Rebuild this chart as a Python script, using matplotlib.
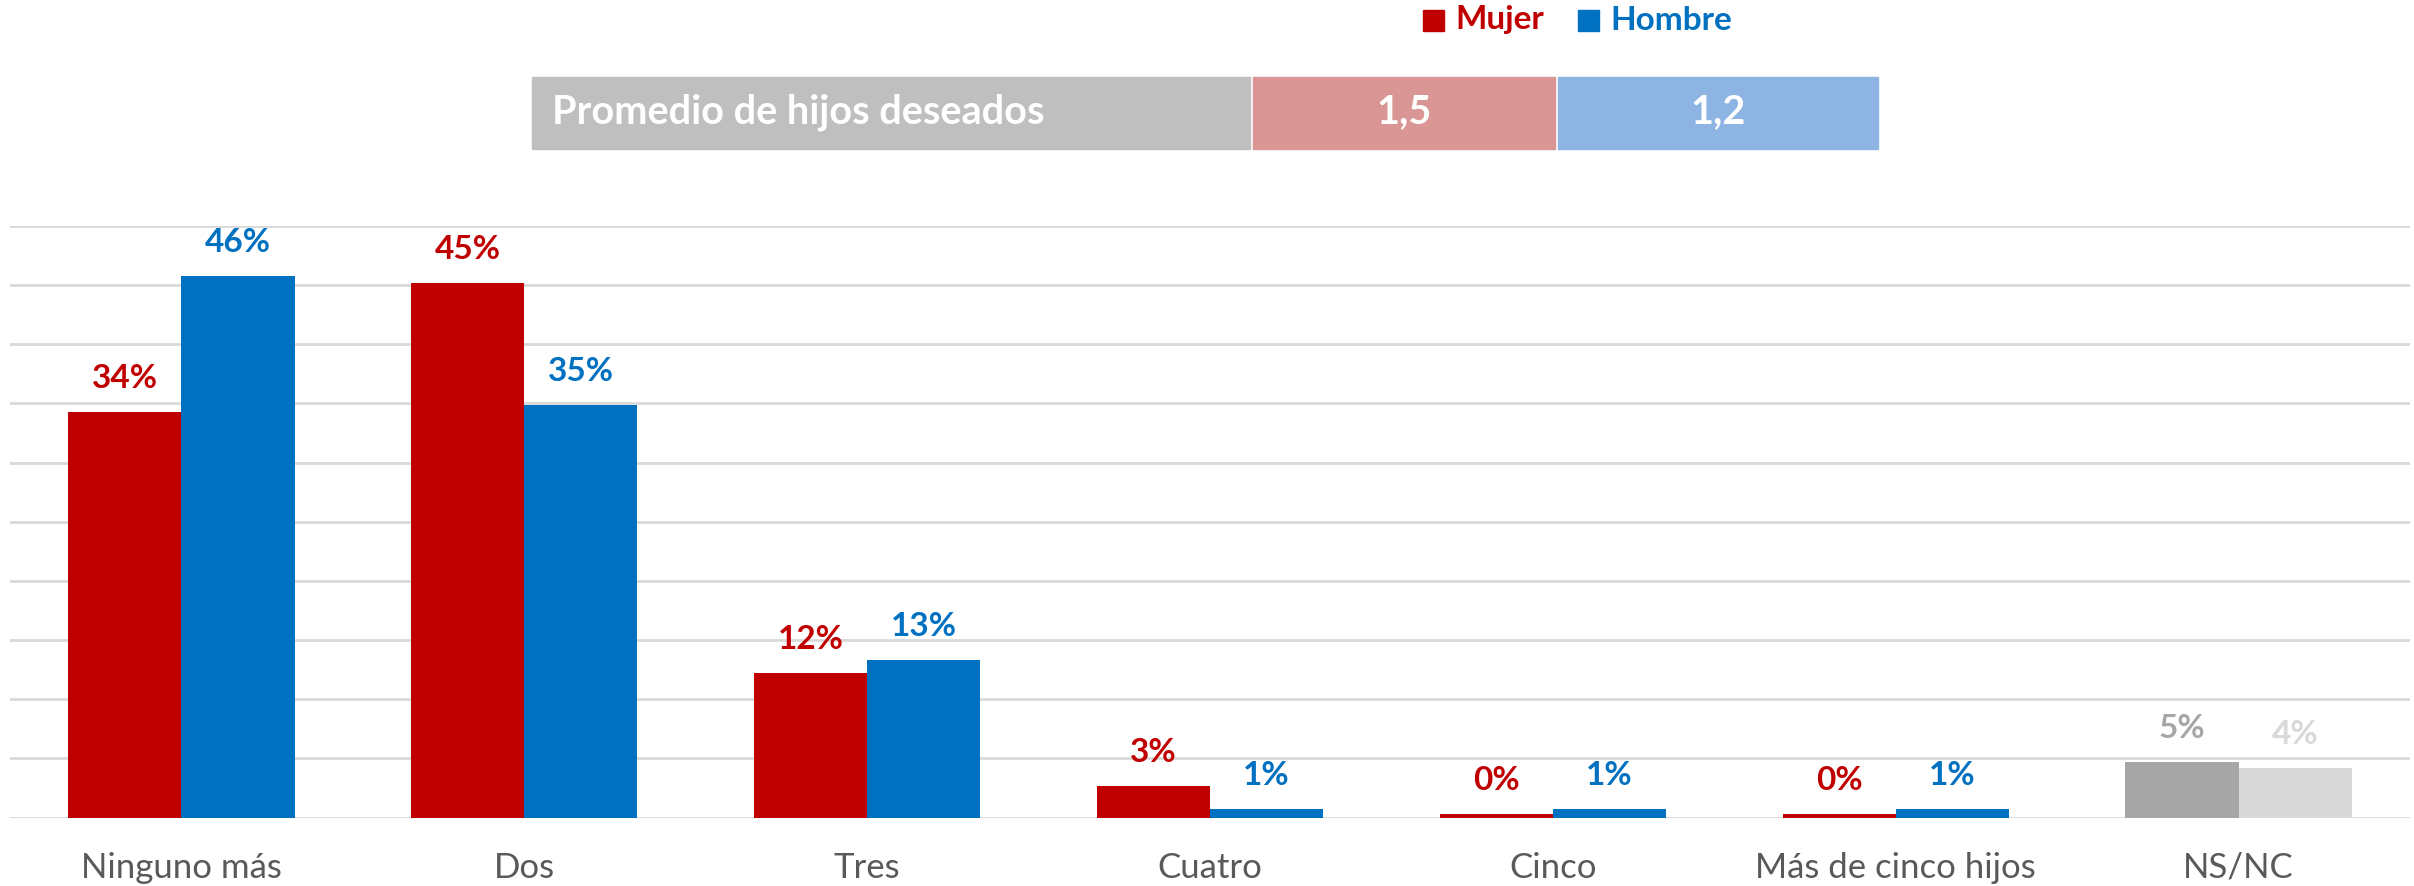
import numpy as np
import matplotlib.pyplot as plt
from matplotlib.patches import Rectangle

# ----------------------------
# Data
# ----------------------------
categorias = ["Ninguno más", "Dos", "Tres", "Cuatro", "Cinco", "Más de cinco hijos", "NS/NC"]
mujer = [34.3, 45.2, 12.2, 2.7, 0.3, 0.3, 4.7]
hombre = [45.8, 34.9, 13.3, 0.7, 0.7, 0.7, 4.2]
series = ["Mujer", "Hombre"]
promedio_label = "Promedio de hijos deseados"
promedio = [1.5, 1.2]

RED, BLUE = "#C00000", "#0070C0"
GRAY_D, GRAY_L = "#A6A6A6", "#D9D9D9"
col_m = [RED] * 6 + [GRAY_D]
col_h = [BLUE] * 6 + [GRAY_L]

plt.rcParams["font.family"] = ["Lato", "DejaVu Sans"]

W, H = 2414, 886
fig = plt.figure(figsize=(W / 100, H / 100), dpi=100)
ax = fig.add_axes([10 / W, 1 - 817.5 / H, 2400 / W, (817.5 - 226) / H])

x = np.arange(len(categorias))
bw = 0.33
ax.bar(x - bw / 2, mujer, bw, color=col_m, zorder=3)
ax.bar(x + bw / 2, hombre, bw, color=col_h, zorder=3)

for xi, v, c in zip(x - bw / 2, mujer, col_m):
    ax.annotate(f"{v:.0f}%", (xi, v), xytext=(0, 24), textcoords="offset points",
                ha="center", va="center", color=c, fontsize=24, fontweight="bold")
for xi, v, c in zip(x + bw / 2, hombre, col_h):
    ax.annotate(f"{v:.0f}%", (xi, v), xytext=(0, 24), textcoords="offset points",
                ha="center", va="center", color=c, fontsize=24, fontweight="bold")

ax.set_xlim(-0.5, len(categorias) - 0.5)
ax.set_ylim(0, 50)
ax.set_yticks(np.arange(0, 51, 5))
ax.yaxis.grid(True, color="#D9D9D9", linewidth=2, zorder=0)
ax.tick_params(axis="y", left=False, labelleft=False)
ax.tick_params(axis="x", bottom=False, pad=21)
ax.set_xticks(x)
ax.set_xticklabels(categorias, fontsize=25, color="#595959")
for s in ax.spines.values():
    s.set_visible(False)

# ----------------------------
# Legend (top)
# ----------------------------
for px, name, c in [(1423, series[0], RED), (1578, series[1], BLUE)]:
    fig.patches.append(Rectangle((px / W, 1 - 31 / H), 21 / W, 21 / H,
                                 transform=fig.transFigure, color=c))
    fig.text((px + 32) / W, 1 - 20 / H, name, color=c, fontsize=24,
             fontweight="bold", ha="left", va="center")

# ----------------------------
# Promedio table
# ----------------------------
y0, y1 = 77, 149
boxes = [(532, 1250, "#BFBFBF"), (1253, 1555, "#DA9694"), (1558, 1878, "#8EB4E3")]
for (a, b, c) in boxes:
    fig.patches.append(Rectangle((a / W, 1 - y1 / H), (b - a) / W, (y1 - y0) / H,
                                 transform=fig.transFigure, color=c))
yc = 1 - 112 / H
fig.text(552 / W, yc, promedio_label, color="white", fontsize=28.5,
         fontweight="bold", ha="left", va="center")
for (a, b, c), v in zip(boxes[1:], promedio):
    fig.text((a + b) / 2 / W, yc, f"{v:.1f}".replace(".", ","), color="white",
             fontsize=28.5, fontweight="bold", ha="center", va="center")

fig.savefig("out.png", dpi=100)
